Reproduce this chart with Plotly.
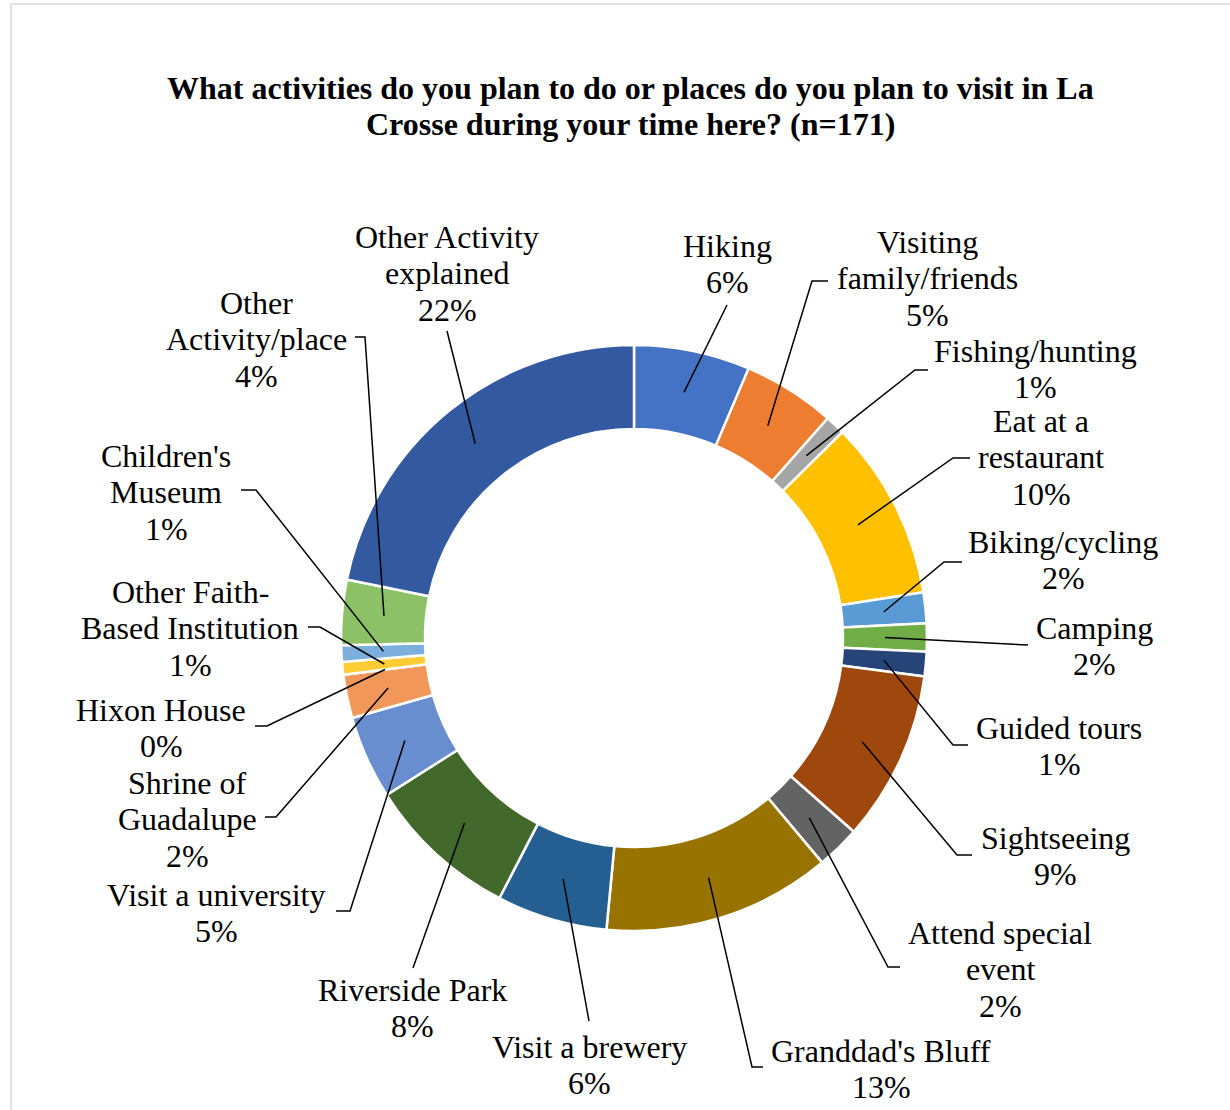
import math
import plotly.graph_objects as go

W, H = 1230, 1110

# Share of responses per activity / place (percent)
categories = [
    "Hiking", "Visiting family/friends", "Fishing/hunting", "Eat at a restaurant",
    "Biking/cycling", "Camping", "Guided tours", "Sightseeing", "Attend special event",
    "Granddad's Bluff", "Visit a brewery", "Riverside Park", "Visit a university",
    "Shrine of Guadalupe", "Hixon House", "Other Faith-Based Institution",
    "Children's Museum", "Other Activity/place", "Other Activity explained",
]
shares = [6.4, 5.1, 1.1, 9.9, 1.7, 1.55, 1.35, 9.4, 2.4, 12.6,
          6.1, 8.4, 4.6, 2.4, 0.0, 0.7, 0.9, 3.6, 21.8]

colors = ["#4472C4", "#ED7D31", "#A5A5A5", "#FFC000", "#5B9BD5", "#70AD47",
          "#264478", "#9E480E", "#636363", "#997300", "#255E91", "#43682B",
          "#698ED0", "#F1975A", "#B7B7B7", "#FFCD33", "#7CAFDD", "#8CC168",
          "#335AA1"]

title_lines = ["What activities do you plan to do or places do you plan to visit in La",
               "Crosse during your time here? (n=171)"]

# How each category name is wrapped in its label
label_wrap = [
    ["Hiking"], ["Visiting", "family/friends"], ["Fishing/hunting"], ["Eat at a", "restaurant"],
    ["Biking/cycling"], ["Camping"], ["Guided tours"], ["Sightseeing"], ["Attend special", "event"],
    ["Granddad's Bluff"], ["Visit a brewery"], ["Riverside Park"], ["Visit a university"],
    ["Shrine of", "Guadalupe"], ["Hixon House"], ["Other Faith-", "Based Institution"],
    ["Children's", "Museum"], ["Other", "Activity/place"], ["Other Activity", "explained"],
]

# Label placement in page pixels: text centre (x, y), leader elbow (x, y), tick end x
label_place = [
    (727, 264, 727, 305, None),
    (927, 278, 812, 281, 828),
    (1035, 369, 915, 370, 928),
    (1041, 457, 953, 458, 970),
    (1063, 560, 944, 562, 962),
    (1094, 646, 1028, 645, None),
    (1059, 746, 953, 745, 968),
    (1055, 856, 957, 855, 972),
    (1000, 969, 888, 967, 900),
    (881, 1069, 752, 1067, 763),
    (589, 1065, 589, 1021, None),
    (412, 1008, 413, 968, None),
    (216, 913, 350, 911, 336),
    (187, 819, 276, 817, 265),
    (161, 728, 267, 726, 255),
    (190, 628, 320, 627, 308),
    (166, 492, 256, 490, 241),
    (256, 339, 365, 337, 355),
    (447, 273, 447, 331, None),
]

# Ring geometry (pixels)
CX, CY, R_OUT, R_IN = 634, 638, 293, 209
LINE_GAP = 36.5
LABEL_FONT = dict(family="Liberation Serif, Times New Roman, serif", size=32, color="black")

total = sum(shares)

fig = go.Figure()

fig.add_trace(go.Pie(
    labels=categories,
    values=shares,
    sort=False,
    direction="clockwise",
    rotation=0,
    hole=R_IN / R_OUT,
    marker=dict(colors=colors, line=dict(color="white", width=2.5)),
    textinfo="none",
    hoverinfo="label+percent",
    showlegend=False,
    domain=dict(x=[(CX - R_OUT) / W, (CX + R_OUT) / W],
                y=[1 - (CY + R_OUT) / H, 1 - (CY - R_OUT) / H]),
))

shapes = []
annotations = []

# Chart-area border
shapes.append(dict(type="path", xref="x", yref="y",
                   path=f"M 11,{H} L 11,4 L {W},4",
                   line=dict(color="#D9D9D9", width=1.5), layer="above"))

r_mid = (R_IN + R_OUT) / 2
cum = 0.0
for name, v, wrap, place in zip(categories, shares, label_wrap, label_place):
    mid = (cum + v / 2) / total * 2 * math.pi
    cum += v
    sx = CX + r_mid * math.sin(mid)
    sy = CY - r_mid * math.cos(mid)
    tx_c, ty_c, ex, ey, tick = place
    path = f"M {sx:.1f},{sy:.1f} L {ex},{ey}"
    if tick is not None:
        path += f" L {tick},{ey}"
    shapes.append(dict(type="path", xref="x", yref="y", path=path,
                       line=dict(color="black", width=1.5), layer="above"))

    pct = int(math.floor(100 * v / total + 0.5))
    lines = wrap + [f"{pct}%"]
    n = len(lines)
    for i, txt in enumerate(lines):
        annotations.append(dict(
            x=tx_c, y=ty_c + (i - (n - 1) / 2) * LINE_GAP, xref="x", yref="y",
            text=txt, showarrow=False, xanchor="center", yanchor="middle",
            font=LABEL_FONT))

for i, txt in enumerate(title_lines):
    annotations.append(dict(
        x=630, y=88 + i * 36, xref="x", yref="y", text=f"<b>{txt}</b>",
        showarrow=False, xanchor="center", yanchor="middle",
        font=dict(family="Liberation Serif, Times New Roman, serif", size=32, color="black")))

fig.update_layout(
    width=W, height=H,
    margin=dict(l=0, r=0, t=0, b=0),
    paper_bgcolor="white", plot_bgcolor="white",
    xaxis=dict(range=[0, W], visible=False, fixedrange=True, domain=[0, 1]),
    yaxis=dict(range=[H, 0], visible=False, fixedrange=True, domain=[0, 1]),
    shapes=shapes,
    annotations=annotations,
)

fig.write_html("out.html")
